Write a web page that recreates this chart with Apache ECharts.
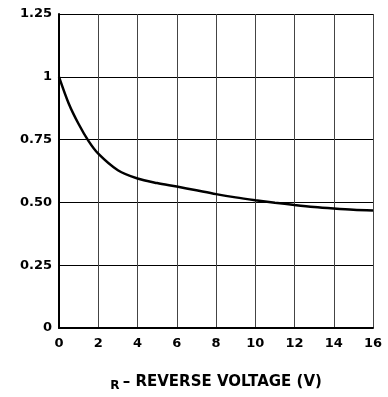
<!DOCTYPE html>
<html>
<head>
<meta charset="utf-8">
<script src="https://cdn.jsdelivr.net/npm/echarts@6/dist/echarts.min.js"></script>
<style>html,body{margin:0;padding:0;background:#fff;}#c{width:388px;height:397px;}</style>
</head>
<body>
<div id="c"></div>
<script>
var xValues = [0, 0.5, 1, 1.5, 2, 3, 4, 5, 6, 7, 8, 9, 10, 11, 12, 13, 14, 15, 16];
var yValues = [1.0, 0.893, 0.812, 0.745, 0.694, 0.628, 0.595, 0.577, 0.563, 0.548, 0.533, 0.52, 0.509, 0.499, 0.49, 0.482, 0.476, 0.471, 0.468];
var yTickLabels = {'0': '0', '0.25': '0.25', '0.5': '0.50', '0.75': '0.75', '1': '1', '1.25': '1.25'};
var xTitle = 'REVERSE VOLTAGE (V)';
var xSub = 'R';

var chart = echarts.init(document.getElementById('c'), null, {renderer: 'canvas'});
var pts = xValues.map(function (x, i) { return [x, yValues[i]]; });
var font = 'DejaVu Sans';
chart.setOption({
  animation: false,
  backgroundColor: '#fff',
  grid: {left: 59, right: 15, top: 14, bottom: 59, containLabel: false},
  xAxis: {
    type: 'value', min: 0, max: 16, interval: 2,
    axisLine: {show: true, onZero: false, lineStyle: {color: '#000', width: 2}},
    axisTick: {show: false},
    axisLabel: {color: '#000', fontFamily: font, fontWeight: 'bold', fontSize: 13, margin: 9},
    splitLine: {show: true, lineStyle: {color: '#444', width: 1}},
    name: '{sub|' + xSub + '} {main|\u2013 ' + xTitle + '}',
    nameLocation: 'middle', nameGap: 44,
    nameTextStyle: {
      rich: {
        sub: {fontFamily: font, fontWeight: 'bold', fontSize: 12, color: '#000', padding: [8, 0, 0, 0]},
        main: {fontFamily: font, fontWeight: 'bold', fontSize: 15, color: '#000'}
      }
    }
  },
  yAxis: {
    type: 'value', min: 0, max: 1.25, interval: 0.25,
    axisLine: {show: true, onZero: false, lineStyle: {color: '#000', width: 2}},
    axisTick: {show: false},
    axisLabel: {color: '#000', fontFamily: font, fontWeight: 'bold', fontSize: 13, margin: 7,
      formatter: function (v) { var k = String(+v.toFixed(2)); return yTickLabels[k] !== undefined ? yTickLabels[k] : k; }},
    splitLine: {show: true, lineStyle: {color: '#000', width: 1}}
  },
  series: [{
    type: 'line', data: pts, smooth: 0.3, showSymbol: false,
    lineStyle: {color: '#000', width: 2.5}
  }]
});
</script>
</body>
</html>
